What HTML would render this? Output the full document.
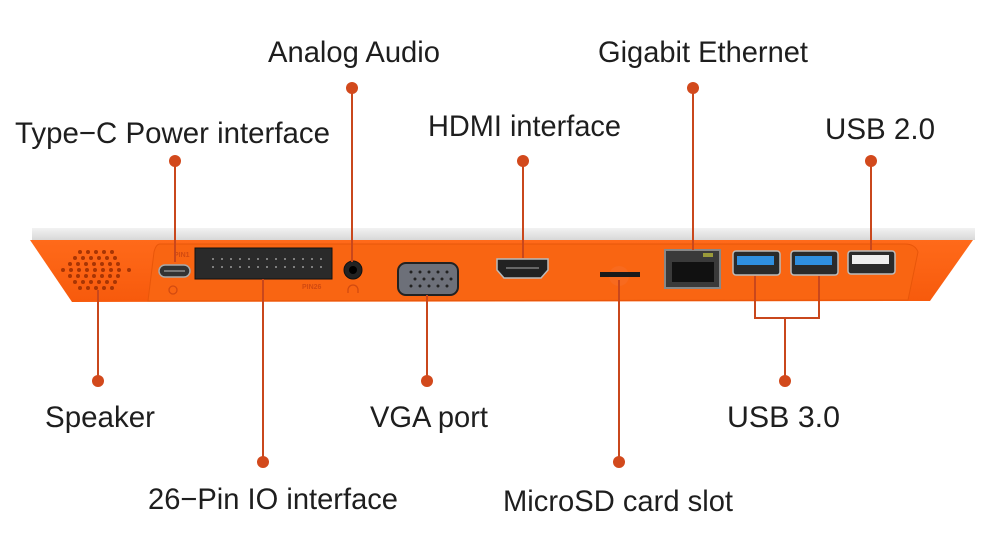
<!DOCTYPE html>
<html><head><meta charset="utf-8"><style>
html,body{margin:0;padding:0;background:#fff;width:1000px;height:552px;overflow:hidden}
text{font-family:"Liberation Sans",sans-serif;font-size:30px;fill:#1e1e1e}
</style></head><body>
<svg width="1000" height="552" viewBox="0 0 1000 552" xmlns="http://www.w3.org/2000/svg">
<defs>
<linearGradient id="wt" x1="0" y1="0" x2="0" y2="1"><stop offset="0" stop-color="#f2f2f2"/><stop offset="1" stop-color="#d8d8d8"/></linearGradient>
<linearGradient id="or" x1="0" y1="0" x2="0" y2="1"><stop offset="0" stop-color="#ff6a1a"/><stop offset="1" stop-color="#f75a0c"/></linearGradient>
</defs>
<path d="M32 228 L975 228 L975 240 L32 240 Z" fill="url(#wt)"/>
<path d="M30 240 L973 240 L930 301 L72 302 Z" fill="url(#or)"/>
<path d="M160 244 L905 244 Q915 244 918 252 L908 300 L148 301 L154 252 Q156 244 160 244 Z" fill="#f96512" stroke="#e8560a" stroke-width="1"/>
<g fill="#a83504">
<circle cx="80" cy="252" r="2"/><circle cx="88" cy="252" r="2"/><circle cx="96" cy="252" r="2"/><circle cx="104" cy="252" r="2"/><circle cx="112" cy="252" r="2"/>
<circle cx="75" cy="258" r="2"/><circle cx="83" cy="258" r="2"/><circle cx="91" cy="258" r="2"/><circle cx="99" cy="258" r="2"/><circle cx="107" cy="258" r="2"/><circle cx="115" cy="258" r="2"/>
<circle cx="70" cy="264" r="2"/><circle cx="78" cy="264" r="2"/><circle cx="86" cy="264" r="2"/><circle cx="94" cy="264" r="2"/><circle cx="102" cy="264" r="2"/><circle cx="110" cy="264" r="2"/><circle cx="118" cy="264" r="2"/>
<circle cx="63" cy="270" r="2"/><circle cx="71" cy="270" r="2"/><circle cx="79" cy="270" r="2"/><circle cx="87" cy="270" r="2"/><circle cx="95" cy="270" r="2"/><circle cx="103" cy="270" r="2"/><circle cx="111" cy="270" r="2"/><circle cx="119" cy="270" r="2"/><circle cx="129" cy="270" r="2"/>
<circle cx="70" cy="276" r="2"/><circle cx="78" cy="276" r="2"/><circle cx="86" cy="276" r="2"/><circle cx="94" cy="276" r="2"/><circle cx="102" cy="276" r="2"/><circle cx="110" cy="276" r="2"/><circle cx="118" cy="276" r="2"/>
<circle cx="75" cy="282" r="2"/><circle cx="83" cy="282" r="2"/><circle cx="91" cy="282" r="2"/><circle cx="99" cy="282" r="2"/><circle cx="107" cy="282" r="2"/><circle cx="115" cy="282" r="2"/>
<circle cx="80" cy="288" r="2"/><circle cx="88" cy="288" r="2"/><circle cx="96" cy="288" r="2"/><circle cx="104" cy="288" r="2"/><circle cx="112" cy="288" r="2"/>
</g>
<rect x="159" y="265" width="31" height="12" rx="6" fill="#333" stroke="#aaa" stroke-width="1.5"/>
<rect x="164" y="270" width="21" height="2" fill="#777"/>
<text x="174" y="257" style="font-size:7px;fill:#d24a10;font-weight:bold">PIN1</text>
<circle cx="173" cy="290" r="4" fill="none" stroke="#d24a10" stroke-width="1.3"/>
<rect x="195" y="248" width="137" height="31" fill="#2a2a2a" stroke="#111"/>
<g fill="#bbb">
<circle cx="213" cy="259" r="0.9"/><circle cx="222" cy="259" r="0.9"/><circle cx="231" cy="259" r="0.9"/><circle cx="240" cy="259" r="0.9"/><circle cx="249" cy="259" r="0.9"/><circle cx="258" cy="259" r="0.9"/><circle cx="267" cy="259" r="0.9"/><circle cx="276" cy="259" r="0.9"/><circle cx="285" cy="259" r="0.9"/><circle cx="294" cy="259" r="0.9"/><circle cx="303" cy="259" r="0.9"/><circle cx="312" cy="259" r="0.9"/><circle cx="321" cy="259" r="0.9"/>
<circle cx="213" cy="267" r="0.9"/><circle cx="222" cy="267" r="0.9"/><circle cx="231" cy="267" r="0.9"/><circle cx="240" cy="267" r="0.9"/><circle cx="249" cy="267" r="0.9"/><circle cx="258" cy="267" r="0.9"/><circle cx="267" cy="267" r="0.9"/><circle cx="276" cy="267" r="0.9"/><circle cx="285" cy="267" r="0.9"/><circle cx="294" cy="267" r="0.9"/><circle cx="303" cy="267" r="0.9"/><circle cx="312" cy="267" r="0.9"/><circle cx="321" cy="267" r="0.9"/>
</g>
<text x="302" y="289" style="font-size:7px;fill:#d24a10;font-weight:bold">PIN26</text>
<circle cx="353" cy="270" r="9" fill="#222" stroke="#111"/><circle cx="353" cy="270" r="4" fill="#000"/>
<path d="M348 293 v-3 a5 5 0 0 1 10 0 v3" fill="none" stroke="#d24a10" stroke-width="1.3"/>
<rect x="398" y="263" width="60" height="32" rx="8" fill="#6d7079" stroke="#222" stroke-width="2"/>
<g fill="#222"><circle cx="411" cy="272" r="1.5"/><circle cx="420" cy="272" r="1.5"/><circle cx="429" cy="272" r="1.5"/><circle cx="438" cy="272" r="1.5"/><circle cx="447" cy="272" r="1.5"/>
<circle cx="415" cy="279" r="1.5"/><circle cx="424" cy="279" r="1.5"/><circle cx="433" cy="279" r="1.5"/><circle cx="442" cy="279" r="1.5"/><circle cx="451" cy="279" r="1.5"/>
<circle cx="411" cy="286" r="1.5"/><circle cx="420" cy="286" r="1.5"/><circle cx="429" cy="286" r="1.5"/><circle cx="438" cy="286" r="1.5"/><circle cx="447" cy="286" r="1.5"/></g>
<path d="M497 259 H548 V270 L541 278 H504 L497 270 Z" fill="#222" stroke="#bbb" stroke-width="1.5"/>
<rect x="506" y="267" width="33" height="2" fill="#666"/>
<circle cx="619" cy="276" r="10" fill="#f86a1e"/>
<rect x="600" y="272" width="40" height="5" fill="#1a1a1a"/>
<rect x="665" y="250" width="55" height="38" fill="#3a3a3a" stroke="#888" stroke-width="2"/>
<rect x="672" y="262" width="42" height="20" fill="#111"/>
<rect x="703" y="253" width="10" height="4" fill="#9a9a3a"/>
<rect x="733" y="251" width="47" height="24" rx="3" fill="#2a2a2a" stroke="#bbb" stroke-width="1.5"/>
<rect x="737" y="256" width="37" height="9" fill="#2f8fe0"/>
<rect x="791" y="251" width="47" height="24" rx="3" fill="#2a2a2a" stroke="#bbb" stroke-width="1.5"/>
<rect x="795" y="256" width="37" height="9" fill="#2f8fe0"/>
<rect x="848" y="251" width="47" height="23" rx="3" fill="#2a2a2a" stroke="#bbb" stroke-width="1.5"/>
<rect x="852" y="255" width="37" height="9" fill="#eee"/>
<g stroke="#c9471c" stroke-width="2" fill="none">
<path d="M175 161 V262"/><path d="M352 88 V262"/><path d="M523 161 V258"/><path d="M693 88 V250"/><path d="M871 161 V250"/>
<path d="M98 381 V290"/><path d="M263 462 V279"/><path d="M427 381 V295"/><path d="M619 462 V280"/>
<path d="M755 276 V318 H819 V276 M785 318 V381"/>
</g>
<g fill="#d2491c">
<circle cx="175" cy="161" r="6"/><circle cx="352" cy="88" r="6"/><circle cx="523" cy="161" r="6"/><circle cx="693" cy="88" r="6"/><circle cx="871" cy="161" r="6"/>
<circle cx="98" cy="381" r="6"/><circle cx="263" cy="462" r="6"/><circle cx="427" cy="381" r="6"/><circle cx="619" cy="462" r="6"/><circle cx="785" cy="381" r="6"/>
</g>
<g>
<text x="15" y="143" textLength="315" lengthAdjust="spacingAndGlyphs">Type−C Power interface</text>
<text x="268" y="62" textLength="172" lengthAdjust="spacingAndGlyphs">Analog Audio</text>
<text x="428" y="136" textLength="193" lengthAdjust="spacingAndGlyphs">HDMI interface</text>
<text x="598" y="62" textLength="210" lengthAdjust="spacingAndGlyphs">Gigabit Ethernet</text>
<text x="825" y="139" textLength="110" lengthAdjust="spacingAndGlyphs">USB 2.0</text>
<text x="45" y="427" textLength="110" lengthAdjust="spacingAndGlyphs">Speaker</text>
<text x="370" y="427" textLength="118" lengthAdjust="spacingAndGlyphs">VGA port</text>
<text x="727" y="427" textLength="113" lengthAdjust="spacingAndGlyphs">USB 3.0</text>
<text x="148" y="509" textLength="250" lengthAdjust="spacingAndGlyphs">26−Pin IO interface</text>
<text x="503" y="511" textLength="230" lengthAdjust="spacingAndGlyphs">MicroSD card slot</text>
</g>
</svg>
</body></html>
